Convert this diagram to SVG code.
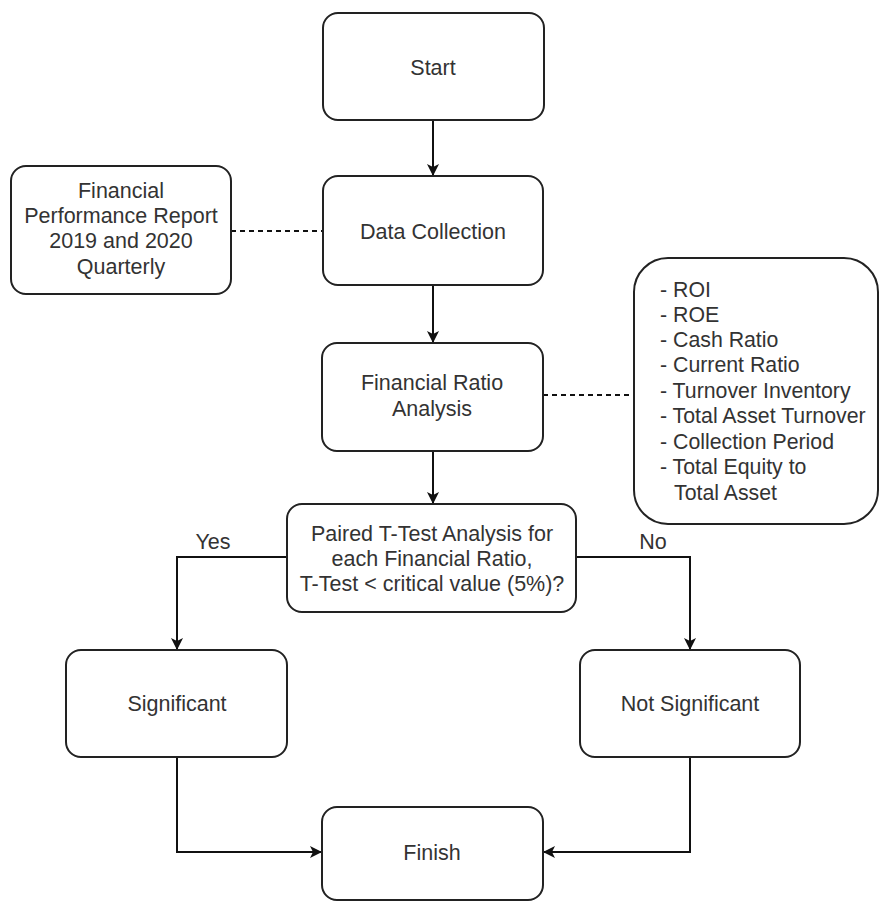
<svg xmlns="http://www.w3.org/2000/svg" width="879" height="902" viewBox="0 0 879 902">
<defs>
<style>
.box{fill:#fff;stroke:#222;stroke-width:2}
.t{font-family:"Liberation Sans",Arial,sans-serif;font-size:21.5px;fill:#333;text-anchor:middle}
.l{font-family:"Liberation Sans",Arial,sans-serif;font-size:21.3px;fill:#333}
.c{fill:none;stroke:#111;stroke-width:2}
.d{fill:none;stroke:#111;stroke-width:2;stroke-dasharray:5 4}
</style>
<marker id="a" viewBox="0 0 12 12" refX="11" refY="6" markerWidth="12" markerHeight="12" markerUnits="userSpaceOnUse" orient="auto">
<path d="M0,0 L12,6 L0,12 L3,6 Z" fill="#111"/>
</marker>
</defs>
<rect width="879" height="902" fill="#fff"/>
<g id="connectors">
<line class="c" x1="433" y1="120" x2="433" y2="175" marker-end="url(#a)"/>
<line class="c" x1="433" y1="285" x2="433" y2="342" marker-end="url(#a)"/>
<line class="c" x1="433" y1="451" x2="433" y2="503" marker-end="url(#a)"/>
<polyline class="c" points="287,557 177,557 177,649" marker-end="url(#a)"/>
<polyline class="c" points="576,557 690,557 690,649" marker-end="url(#a)"/>
<polyline class="c" points="177,757 177,852 321,852" marker-end="url(#a)"/>
<polyline class="c" points="690,757 690,852 544,852" marker-end="url(#a)"/>
<line class="d" x1="231" y1="231" x2="323" y2="231"/>
<line class="d" x1="543" y1="395" x2="634" y2="395"/>
<text class="t" x="213" y="549">Yes</text>
<text class="t" x="653" y="549">No</text>
</g>
<g id="start">
<rect class="box" x="323" y="13" width="221" height="107" rx="15"/>
<text class="t" x="433" y="75">Start</text>
</g>
<g id="report">
<rect class="box" x="11" y="166" width="220" height="128" rx="15"/>
<text class="t" x="121" y="198">Financial</text>
<text class="t" x="121" y="223">Performance Report</text>
<text class="t" x="121" y="248">2019 and 2020</text>
<text class="t" x="121" y="274">Quarterly</text>
</g>
<g id="data-collection">
<rect class="box" x="323" y="176" width="220" height="109" rx="15"/>
<text class="t" x="433" y="239">Data Collection</text>
</g>
<g id="ratios">
<rect class="box" x="634" y="258" width="244" height="266" rx="34"/>
<text class="l" x="660" y="297">- ROI</text>
<text class="l" x="660" y="322">- ROE</text>
<text class="l" x="660" y="347">- Cash Ratio</text>
<text class="l" x="660" y="372">- Current Ratio</text>
<text class="l" x="660" y="398">- Turnover Inventory</text>
<text class="l" x="660" y="423">- Total Asset Turnover</text>
<text class="l" x="660" y="449">- Collection Period</text>
<text class="l" x="660" y="474">- Total Equity to</text>
<text class="l" x="674" y="500">Total Asset</text>
</g>
<g id="ratio-analysis">
<rect class="box" x="322" y="343" width="221" height="108" rx="15"/>
<text class="t" x="432" y="390">Financial Ratio</text>
<text class="t" x="432" y="416">Analysis</text>
</g>
<g id="decision">
<rect class="box" x="287" y="504" width="289" height="108" rx="15"/>
<text class="t" x="432" y="541">Paired T-Test Analysis for</text>
<text class="t" x="432" y="566">each Financial Ratio,</text>
<text class="t" x="432" y="591">T-Test &lt; critical value (5%)?</text>
</g>
<g id="significant">
<rect class="box" x="66" y="650" width="221" height="107" rx="15"/>
<text class="t" x="177" y="711">Significant</text>
</g>
<g id="not-significant">
<rect class="box" x="580" y="650" width="220" height="107" rx="15"/>
<text class="t" x="690" y="711">Not Significant</text>
</g>
<g id="finish">
<rect class="box" x="322" y="807" width="221" height="93" rx="15"/>
<text class="t" x="432" y="860">Finish</text>
</g>
</svg>
